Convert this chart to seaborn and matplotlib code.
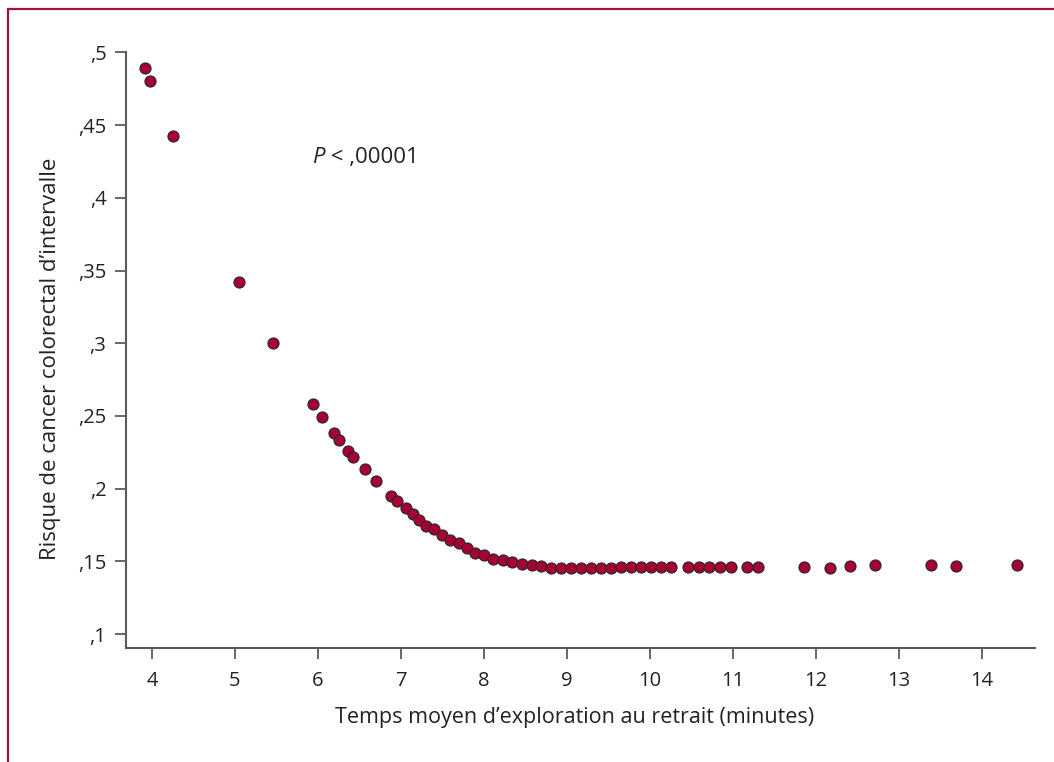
import matplotlib
matplotlib.use("Agg")
import matplotlib.pyplot as plt
from matplotlib.lines import Line2D
import seaborn as sns
import pandas as pd

# ---- data ----
temps = [3.916, 3.980, 4.253, 5.052, 5.462, 5.936, 6.044, 6.189, 6.249, 6.365,
         6.426, 6.566, 6.702, 6.884, 6.956, 7.064, 7.141, 7.217, 7.297, 7.401,
         7.494, 7.590, 7.699, 7.792, 7.895, 8.000, 8.112, 8.229, 8.341, 8.458,
         8.575, 8.690, 8.811, 8.932, 9.052, 9.172, 9.293, 9.413, 9.534, 9.654,
         9.775, 9.895, 10.016, 10.133, 10.249, 10.462, 10.587, 10.715, 10.847, 10.976,
         11.173, 11.297, 11.855, 12.169, 12.406, 12.711, 13.390, 13.687, 14.426]
risque = [0.4895, 0.4803, 0.4423, 0.342, 0.300, 0.258, 0.249, 0.2385, 0.2332, 0.226,
          0.2216, 0.2133, 0.2054, 0.1949, 0.1917, 0.1864, 0.1823, 0.1782, 0.1745, 0.172,
          0.1681, 0.1649, 0.1624, 0.1589, 0.1559, 0.1541, 0.1518, 0.1507, 0.1493, 0.1479,
          0.1472, 0.1466, 0.1456, 0.1456, 0.1456, 0.1457, 0.1457, 0.1456, 0.1457, 0.1459,
          0.1459, 0.1460, 0.1460, 0.1460, 0.1462, 0.1462, 0.1462, 0.1462, 0.1462, 0.1462,
          0.1459, 0.1459, 0.1459, 0.1454, 0.1470, 0.1475, 0.1472, 0.1468, 0.1472]
x_ticks = [4, 5, 6, 7, 8, 9, 10, 11, 12, 13, 14]
x_tick_labels = ["4", "5", "6", "7", "8", "9", "10", "11", "12", "13", "14"]
y_ticks = [0.1, 0.15, 0.2, 0.25, 0.3, 0.35, 0.4, 0.45, 0.5]
y_tick_labels = [",1", ",15", ",2", ",25", ",3", ",35", ",4", ",45", ",5"]
x_label = "Temps moyen d\u2019exploration au retrait (minutes)"
y_label = "Risque de cancer colorectal d\u2019intervalle"
p_symbol = "P"
p_text = " < ,00001"

df = pd.DataFrame({"temps": temps, "risque": risque})

sns.set_theme(style="ticks")
plt.rcParams["font.family"] = ["Open Sans", "DejaVu Sans"]

AXC = "#5a5a5a"
TXT = "#222222"
RED = "#a50034"

fig = plt.figure(figsize=(10.54, 7.62), dpi=100)
ax = fig.add_axes([126 / 1054, 1 - 648.3 / 762, (1035 - 126) / 1054, (648.3 - 52.4) / 762])

sns.scatterplot(data=df, x="temps", y="risque", ax=ax, color=RED, s=64,
                edgecolor="#2a2a2a", linewidth=0.8, clip_on=False, zorder=3)

ax.set_xlim(3.687, 14.64)
ax.set_ylim(0.0902, 0.5)
ax.set_xticks(x_ticks)
ax.set_xticklabels(x_tick_labels)
ax.set_yticks(y_ticks)
ax.set_yticklabels(y_tick_labels)

for s in ["top", "right"]:
    ax.spines[s].set_visible(False)
for s in ["left", "bottom"]:
    ax.spines[s].set_color(AXC)
    ax.spines[s].set_linewidth(1.5)

ax.tick_params(axis="both", colors=AXC, length=8, width=1.3, labelcolor=TXT, labelsize=14.5)
ax.tick_params(axis="y", pad=6)
ax.tick_params(axis="x", pad=8)

ax.set_xlabel(x_label, fontsize=15.5, color=TXT)
ax.set_ylabel(y_label, fontsize=16, color=TXT)
ax.xaxis.set_label_coords(0.493, -0.099)
ax.yaxis.set_label_coords(-0.071, 0.486)

t1 = ax.text(5.928, 0.428, p_symbol, fontsize=16, color=TXT, va="center", ha="left",
             fontstyle="italic")
ax.annotate(p_text, xy=(1, 0), xycoords=t1, va="bottom", ha="left",
            fontsize=16, color=TXT)

# frame lines (top and left)
fig.add_artist(Line2D([8 / 1054, 1], [1 - 9 / 762, 1 - 9 / 762], transform=fig.transFigure,
                      color="#a3143c", linewidth=1.6))
fig.add_artist(Line2D([8 / 1054, 8 / 1054], [0, 1 - 9 / 762], transform=fig.transFigure,
                      color="#a3143c", linewidth=1.6))

fig.savefig("out.png", dpi=100)
